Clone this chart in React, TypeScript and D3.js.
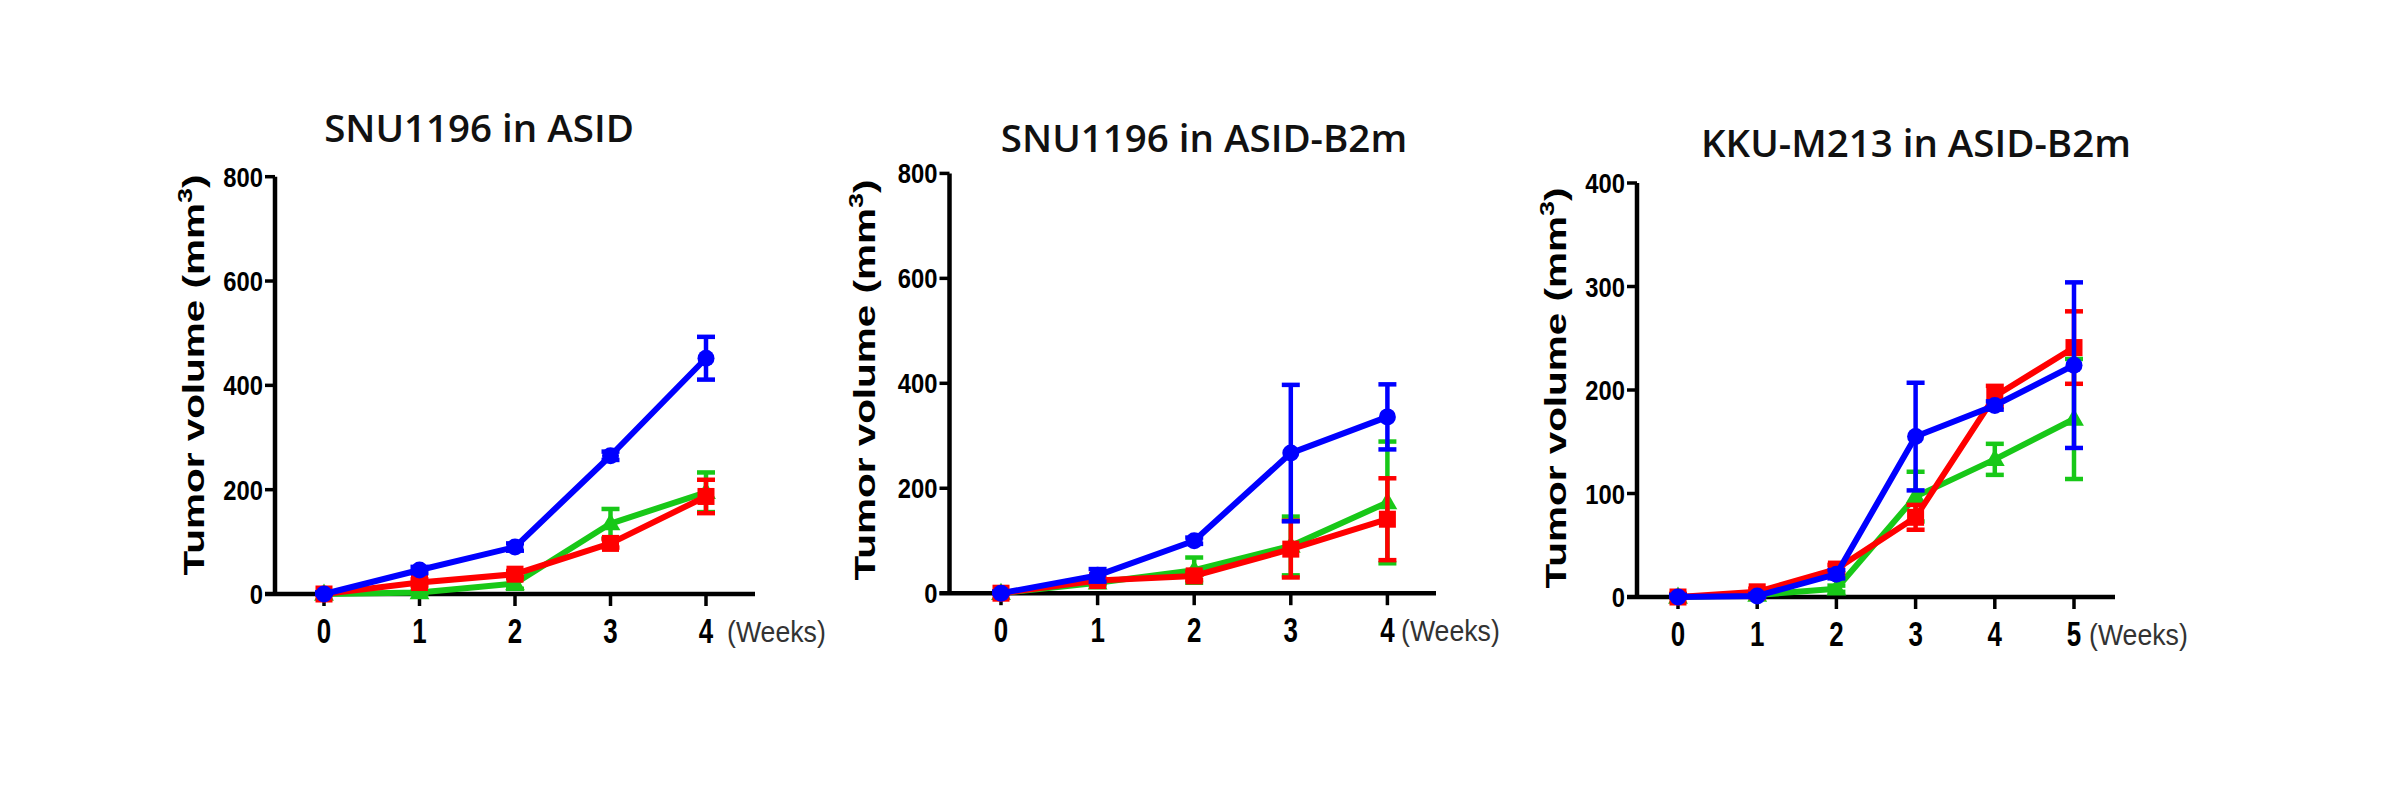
import React from "react";
import * as d3 from "d3";

// ---------- data ----------
const TITLES = ["SNU1196 in ASID", "SNU1196 in ASID-B2m", "KKU-M213 in ASID-B2m"];
const WEEKS_4 = [0, 1, 2, 3, 4];
const WEEKS_5 = [0, 1, 2, 3, 4, 5];
const Y_TICKS_800 = [0, 200, 400, 600, 800];
const Y_TICKS_400 = [0, 100, 200, 300, 400];
const X_UNIT = "(Weeks)";
const Y_LABEL = "Tumor volume (mm";
const Y_LABEL_SUP = "3";

// Panel 1: SNU1196 in ASID
const P1_GREEN = [0, 3, 20, 135, 195];
const P1_GREEN_SEM = [2, 3, 10, 28, 38];
const P1_RED = [0, 22, 38, 97, 187];
const P1_RED_SEM = [3, 6, 6, 8, 32];
const P1_BLUE = [0, 46, 90, 265, 452];
const P1_BLUE_SEM = [3, 6, 7, 8, 41];

// Panel 2: SNU1196 in ASID-B2m
const P2_GREEN = [0, 20, 44, 90, 173];
const P2_GREEN_SEM = [2, 5, 24, 56, 116];
const P2_RED = [0, 24, 33, 84, 141];
const P2_RED_SEM = [3, 5, 8, 54, 78];
const P2_BLUE = [0, 34, 100, 267, 336];
const P2_BLUE_SEM = [3, 12, 6, 130, 62];

// Panel 3: KKU-M213 in ASID-B2m
const P3_GREEN = [0, 2, 8, 97, 133, 172];
const P3_GREEN_SEM = [2, 2, 3, 24, 15, 58];
const P3_RED = [0, 5, 27, 77, 194, 241];
const P3_RED_SEM = [3, 3, 4, 12, 10, 35];
const P3_BLUE = [0, 1, 22, 155, 185, 224];
const P3_BLUE_SEM = [2, 2, 4, 52, 4, 80];

// ---------- styles / layout ----------
const GREEN = "#18c818";
const RED = "#ff0000";
const BLUE = "#0000ff";

type Series = { mean: number[]; sem: number[]; color: string; shape: "circle" | "square" | "triangle" };
type Panel = {
  title: string;
  weeks: number[];
  yTicks: number[];
  series: Series[];
  L: {
    axisX: number; tick0: number; step: number; yTop: number; y0: number; xEnd: number;
    titleX: number; titleY: number; ylabX: number; ylabY: number; weeksX: number;
  };
};

const PANELS: Panel[] = [
  {
    title: TITLES[0], weeks: WEEKS_4, yTicks: Y_TICKS_800,
    series: [
      { mean: P1_GREEN, sem: P1_GREEN_SEM, color: GREEN, shape: "triangle" },
      { mean: P1_RED, sem: P1_RED_SEM, color: RED, shape: "square" },
      { mean: P1_BLUE, sem: P1_BLUE_SEM, color: BLUE, shape: "circle" },
    ],
    L: { axisX: 275, tick0: 324, step: 95.5, yTop: 176.7, y0: 594, xEnd: 755, titleX: 479, titleY: 142, ylabX: 204, ylabY: 375, weeksX: 727 },
  },
  {
    title: TITLES[1], weeks: WEEKS_4, yTicks: Y_TICKS_800,
    series: [
      { mean: P2_GREEN, sem: P2_GREEN_SEM, color: GREEN, shape: "triangle" },
      { mean: P2_RED, sem: P2_RED_SEM, color: RED, shape: "square" },
      { mean: P2_BLUE, sem: P2_BLUE_SEM, color: BLUE, shape: "circle" },
    ],
    L: { axisX: 949.5, tick0: 1001, step: 96.6, yTop: 173.4, y0: 593.2, xEnd: 1436, titleX: 1204, titleY: 152, ylabX: 875, ylabY: 380, weeksX: 1401 },
  },
  {
    title: TITLES[2], weeks: WEEKS_5, yTicks: Y_TICKS_400,
    series: [
      { mean: P3_GREEN, sem: P3_GREEN_SEM, color: GREEN, shape: "triangle" },
      { mean: P3_RED, sem: P3_RED_SEM, color: RED, shape: "square" },
      { mean: P3_BLUE, sem: P3_BLUE_SEM, color: BLUE, shape: "circle" },
    ],
    L: { axisX: 1637, tick0: 1678, step: 79.2, yTop: 183, y0: 597, xEnd: 2115, titleX: 1916, titleY: 157, ylabX: 1566, ylabY: 388, weeksX: 2089 },
  },
];

const TICK_FONT = "'Liberation Sans', Arial, sans-serif";
const TITLE_FONT = "'Open Sans', 'Noto Sans', sans-serif";

function Marker({ shape, x, y, color }: { shape: string; x: number; y: number; color: string }) {
  if (shape === "circle") return <circle cx={x} cy={y} r={8.5} fill={color} />;
  if (shape === "square") return <rect x={x - 8.5} y={y - 8.5} width={17} height={17} fill={color} />;
  const p = d3.symbol(d3.symbolTriangle, 170)() as string;
  return <path d={p} transform={`translate(${x},${y + 1})`} fill={color} />;
}

function PanelView({ p }: { p: Panel }) {
  const L = p.L;
  const yMax = p.yTicks[p.yTicks.length - 1];
  const x = d3.scaleLinear().domain([0, p.weeks.length - 1]).range([L.tick0, L.tick0 + L.step * (p.weeks.length - 1)]);
  const y = d3.scaleLinear().domain([0, yMax]).range([L.y0, L.yTop]);
  const line = d3.line<number>().x((_, i) => x(p.weeks[i])).y((d) => y(d));
  const capW = 9;
  return (
    <g>
      <text x={L.titleX} y={L.titleY} textAnchor="middle" fontFamily={TITLE_FONT} fontWeight={600} fontSize={38.5} fill="#111">
        {p.title}
      </text>
      {/* y axis label */}
      <text
        transform={`translate(${L.ylabX},${L.ylabY}) scale(0.72,1) rotate(-90)`}
        textAnchor="middle" fontFamily={TICK_FONT} fontWeight={700} fontSize={40.5} fill="#000"
      >
        {Y_LABEL}
        <tspan fontSize={27} dy={-17}>{Y_LABEL_SUP}</tspan>
        <tspan dy={17}>)</tspan>
      </text>
      {/* axes */}
      <line x1={L.axisX} x2={L.axisX} y1={y(yMax)} y2={L.y0} stroke="#000" strokeWidth={4.5} />
      <line x1={L.axisX - 10} x2={L.xEnd} y1={L.y0} y2={L.y0} stroke="#000" strokeWidth={4.5} />
      {p.yTicks.map((t) => (
        <g key={t}>
          <line x1={L.axisX - 10} x2={L.axisX} y1={y(t)} y2={y(t)} stroke="#000" strokeWidth={3.5} />
          <text
            transform={`translate(${L.axisX - 12},${y(t)}) scale(0.85,1)`}
            dy="0.36em" textAnchor="end" fontFamily={TICK_FONT} fontWeight={700} fontSize={28} fill="#000"
          >
            {t}
          </text>
        </g>
      ))}
      {p.weeks.map((w) => (
        <g key={w}>
          <line x1={x(w)} x2={x(w)} y1={L.y0} y2={L.y0 + 12} stroke="#000" strokeWidth={3.5} />
          <text
            transform={`translate(${x(w)},${L.y0 + 49}) scale(0.72,1)`}
            textAnchor="middle" fontFamily={TICK_FONT} fontWeight={700} fontSize={36} fill="#000"
          >
            {w}
          </text>
        </g>
      ))}
      <text
        transform={`translate(${L.weeksX},${L.y0 + 48}) scale(0.92,1)`}
        fontFamily={TICK_FONT} fontSize={29} fill="#333"
      >
        {X_UNIT}
      </text>
      {/* series */}
      {p.series.map((s, si) => (
        <g key={si}>
          {s.mean.map((m, i) => {
            const cx = x(p.weeks[i]);
            const lo = y(Math.max(0, m - s.sem[i]));
            const hi = y(m + s.sem[i]);
            return (
              <g key={i} stroke={s.color} strokeWidth={4.5}>
                <line x1={cx} x2={cx} y1={lo} y2={hi} />
                <line x1={cx - capW} x2={cx + capW} y1={hi} y2={hi} />
                <line x1={cx - capW} x2={cx + capW} y1={lo} y2={lo} />
              </g>
            );
          })}
          <path d={line(s.mean) as string} fill="none" stroke={s.color} strokeWidth={6} strokeLinejoin="round" />
          {s.mean.map((m, i) => (
            <Marker key={i} shape={s.shape} x={x(p.weeks[i])} y={y(m)} color={s.color} />
          ))}
        </g>
      ))}
    </g>
  );
}

export default function App() {
  return (
    <div style={{ position: "absolute", left: 0, top: 0 }}>
      <svg width={2400} height={800} viewBox="0 0 2400 800" style={{ display: "block", background: "#fff" }}>
        <rect width={2400} height={800} fill="#fff" />
        {PANELS.map((p, i) => (
          <PanelView key={i} p={p} />
        ))}
      </svg>
    </div>
  );
}
